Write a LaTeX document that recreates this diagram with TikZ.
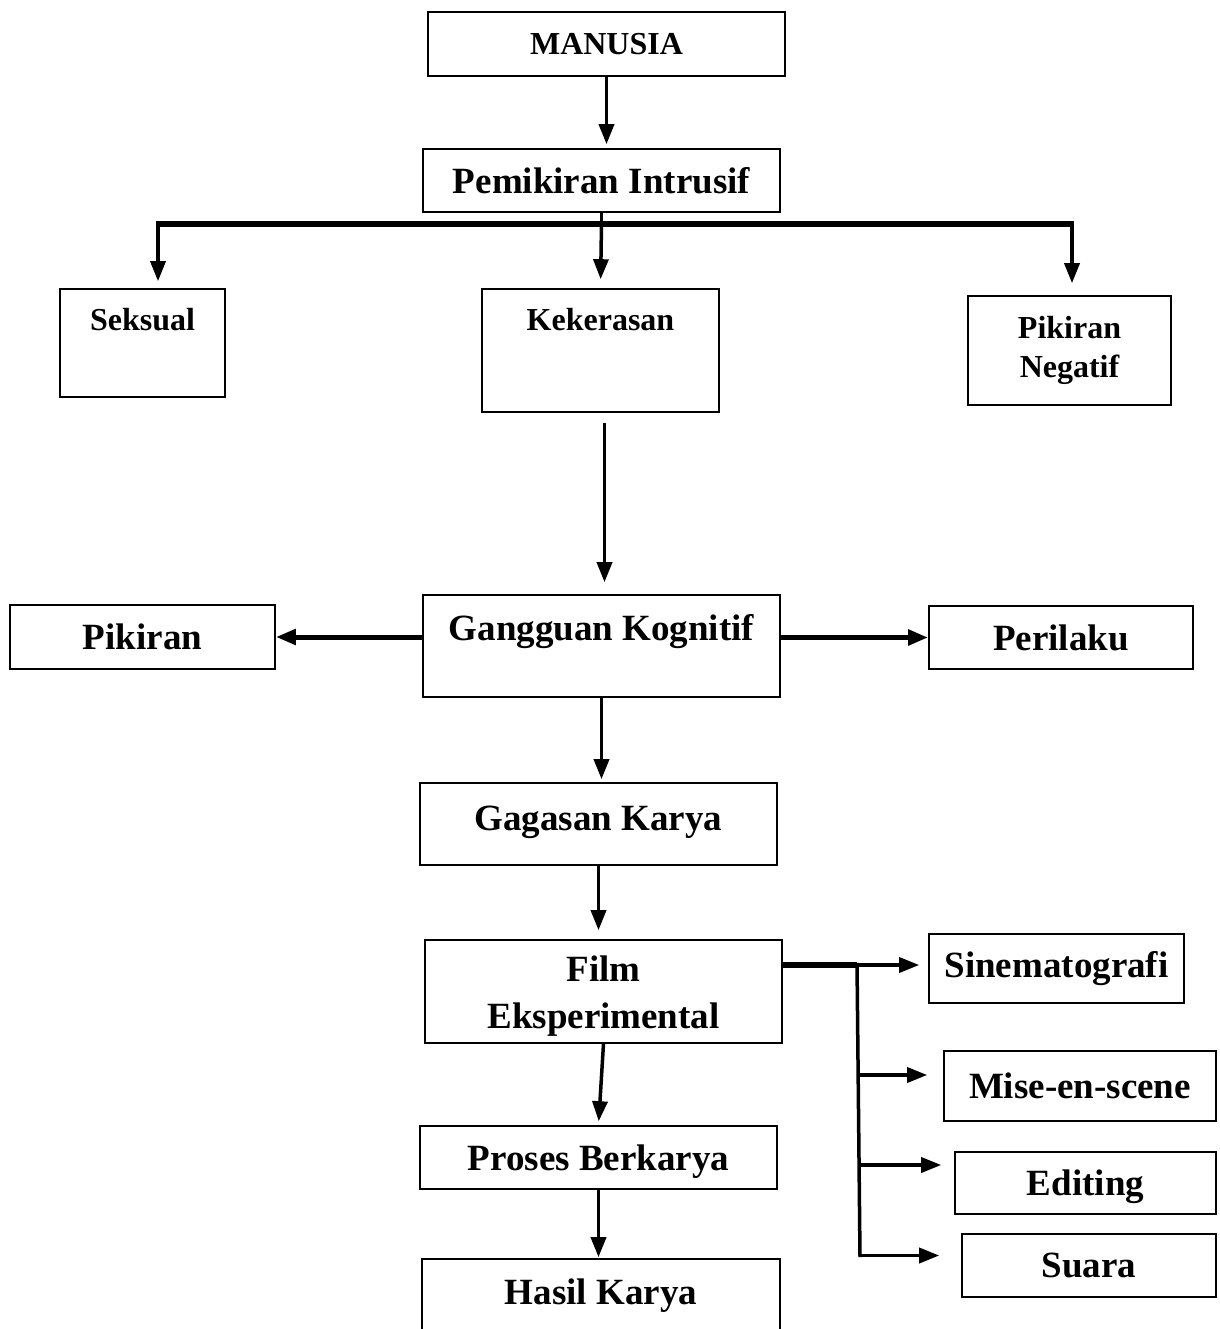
\documentclass[tikz,border=0pt]{standalone}
\usepackage{fontspec}
\setmainfont{Liberation Serif}
\usetikzlibrary{arrows.meta}

\tikzset{
  kotak/.style={draw, line width=1.6pt, inner sep=0pt, align=center,
    font=\fontsize{37}{47}\selectfont\bfseries},
  kecil/.style={font=\fontsize{32}{39}\selectfont\bfseries},
  besar/.style={font=\fontsize{37}{47}\selectfont\bfseries, align=center},
  panah/.style={line width=3.5pt, -{Triangle[length=20pt,width=15pt]}},
  tebal/.style={line width=6pt},
}

\begin{document}
\begin{tikzpicture}[x=1pt,y=-1pt]
  \useasboundingbox (0,0) rectangle (1219,1329);
  % kotak atas
  \node[kotak, kecil, minimum width=357pt, minimum height=64pt] (manusia) at (606.5,44) {MANUSIA};
  \node[kotak, minimum width=357pt, minimum height=63pt] (pemikiran) at (601.5,180.5) {Pemikiran Intrusif};
  \node[kotak, minimum width=165pt, minimum height=108pt,
    label={[kecil, anchor=center, yshift=-31pt]north:Seksual}] (seksual) at (142.5,343) {};
  \node[kotak, minimum width=237pt, minimum height=123pt,
    label={[kecil, anchor=center, yshift=-31pt]north:Kekerasan}] (kekerasan) at (600.5,350.5) {};
  \node[kotak, kecil, minimum width=203pt, minimum height=109pt] (negatif) at (1069.5,350.5) {Pikiran\\Negatif};
  % kotak tengah
  \node[kotak, minimum width=357pt, minimum height=102pt,
    label={[besar, anchor=center, yshift=-37pt]north:Gangguan Kognitif}] (gangguan) at (601.5,646) {};
  \node[kotak, minimum width=265pt, minimum height=64pt] (pikiran) at (142.5,637) {Pikiran};
  \node[kotak, minimum width=264pt, minimum height=63pt] (perilaku) at (1061,637.5) {Perilaku};
  \node[kotak, minimum width=357pt, minimum height=82pt,
    label={[besar, anchor=center, yshift=-40pt]north:Gagasan Karya}] (gagasan) at (598.5,824) {};
  \node[kotak, minimum width=357pt, minimum height=103pt,
    label={[besar, anchor=center, yshift=-57pt]north:Film\\Eksperimental}] (film) at (603.5,991.5) {};
  \node[kotak, text depth=0pt, minimum width=357pt, minimum height=63pt] (proses) at (598.5,1157.5) {Proses Berkarya};
  \node[kotak, minimum width=358pt, minimum height=90pt,
    label={[besar, anchor=center, yshift=-37pt]north:Hasil Karya}] (hasil) at (601,1304) {};
  % kotak kanan bawah
  \node[kotak, minimum width=255pt, minimum height=69pt] (sinema) at (1056.5,968.5) {Sinematografi};
  \node[kotak, minimum width=272pt, minimum height=70pt] (mise) at (1080,1086) {Mise-en-scene};
  \node[kotak, text depth=0pt, minimum width=261pt, minimum height=62pt] (editing) at (1085.5,1183) {Editing};
  \node[kotak, minimum width=254pt, minimum height=63pt] (suara) at (1089,1265.5) {Suara};

  % percabangan atas
  \coordinate (cabang) at (601.5,224);
  \coordinate (kiri) at (158,224);
  \coordinate (kanan) at (1072,224);
  \draw[panah, shorten >=4pt] (manusia.south) -- (manusia.south |- pemikiran.north);
  \draw[line width=3.5pt] (pemikiran.south) -- (cabang);
  \draw[tebal] ([xshift=-2pt]kiri) -- ([xshift=2pt]kanan);
  \draw[panah, shorten >=7pt] (kiri) -- (kiri |- seksual.north);
  \draw[panah, shorten >=9pt] (cabang) -- (kekerasan.north);
  \draw[panah, shorten >=12pt] (kanan) -- (kanan |- negatif.north);

  % alur tengah
  \draw[panah, shorten <=10pt, shorten >=12pt] ([xshift=4pt]kekerasan.south) -- ([xshift=3pt]gangguan.north);
  \draw[panah, line width=5pt] (gangguan.west |- pikiran.east) -- (pikiran.east);
  \draw[panah, line width=5pt] (gangguan.east |- perilaku.west) -- (perilaku.west);
  \draw[panah, shorten >=3pt] (gangguan.south) -- (gangguan.south |- gagasan.north);
  \draw[panah, shorten >=9pt] (gagasan.south) -- (gagasan.south |- film.north);
  \draw[panah, shorten >=4pt] (film.south) -- (proses.north);
  \draw[panah, shorten >=1pt] (proses.south) -- (proses.south |- hasil.north);

  % percabangan film
  \coordinate (garpu) at (857,965);
  \coordinate (ujung) at (860,1257);
  \draw[tebal] (film.east |- garpu) -- (garpu);
  \draw[line width=3.5pt] ([yshift=2pt]garpu) -- (ujung);
  \draw[panah, shorten >=9pt] (garpu) -- (sinema.west |- garpu);
  \foreach \n/\dy/\gap in {mise/11/16, editing/18/13, suara/10/22}
    \draw[panah, shorten >=\gap pt] ([yshift=\dy pt]ujung |- \n.west) -- ([yshift=\dy pt]\n.west);
\end{tikzpicture}
\end{document}
